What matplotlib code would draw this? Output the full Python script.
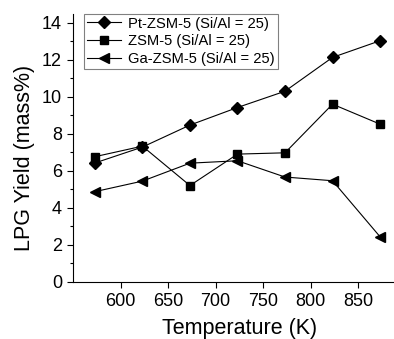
import matplotlib
matplotlib.use("Agg")
import matplotlib.pyplot as plt

temps = [573, 623, 673, 723, 773, 823, 873]
pt_zsm5 = [6.42, 7.28, 8.47, 9.42, 10.3, 12.13, 13.03]
zsm5 = [6.76, 7.33, 5.2, 6.9, 6.97, 9.6, 8.52]
ga_zsm5 = [4.87, 5.44, 6.41, 6.54, 5.66, 5.46, 2.43]
labels = ["Pt-ZSM-5 (Si/Al = 25)", "ZSM-5 (Si/Al = 25)", "Ga-ZSM-5 (Si/Al = 25)"]
xticks = [600, 650, 700, 750, 800, 850]
yticks = [0, 2, 4, 6, 8, 10, 12, 14]

plt.rcParams['font.family'] = ['Liberation Sans', 'DejaVu Sans']
fig = plt.figure(figsize=(3.94, 3.39), dpi=100)
ax = fig.add_axes([0.1853, 0.169, 0.8445, 0.791])

ax.plot(temps, pt_zsm5, color='black', lw=0.8, marker='D', ms=6.5, label=labels[0])
ax.plot(temps, zsm5, color='black', lw=0.8, marker='s', ms=5.5, label=labels[1])
ax.plot(temps, ga_zsm5, color='black', lw=0.8, marker='<', ms=7.5, label=labels[2])

ax.set_xlim(550, 900)
ax.set_ylim(0, 14.5)
ax.set_xticks(xticks)
ax.set_yticks(yticks)
ax.set_yticks([1, 3, 5, 7, 9, 11, 13], minor=True)
ax.tick_params(axis='both', which='major', direction='out', length=4.5, width=0.8, labelsize=13)
ax.tick_params(axis='both', which='minor', direction='out', length=2.5, width=0.8)
ax.spines['top'].set_visible(False)
ax.spines['right'].set_visible(False)
for s in ['left', 'bottom']:
    ax.spines[s].set_linewidth(0.8)

ax.set_xlabel("Temperature (K)", fontsize=15.5, labelpad=6)
ax.set_ylabel("LPG Yield (mass%)", fontsize=15.5)
ax.yaxis.set_label_coords(-0.115, 0.461)

leg = ax.legend(loc='upper left', bbox_to_anchor=(0.033, 1.0), fontsize=10.6, frameon=True,
                fancybox=False, edgecolor='gray', framealpha=1, borderpad=0.2,
                labelspacing=0.25, handlelength=2.3, handletextpad=0.5, borderaxespad=0.0)
leg.get_frame().set_linewidth(0.8)

fig.savefig("out.png", dpi=100)
